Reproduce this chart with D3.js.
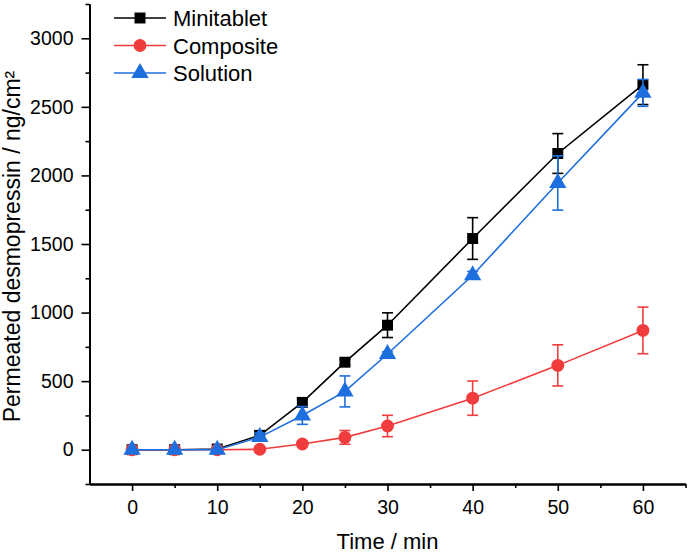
<!DOCTYPE html>
<html>
<head>
<meta charset="utf-8">
<script src="https://cdn.jsdelivr.net/npm/d3@7"></script>
<style>
  html, body { margin: 0; padding: 0; background: #fff; }
  svg { display: block; font-family: "Liberation Sans", Arial, sans-serif; }
</style>
</head>
<body>
<svg id="chart" width="689" height="554"></svg>
<script>
const times = [0, 5, 10, 15, 20, 25, 30, 40, 50, 60];
const seriesNames = ["Minitablet", "Composite", "Solution"];
const minitablet = [0, 0, 5, 105, 345, 638, 908, 1540, 2160, 2662];
const minitabletErr = [0, 0, 10, 30, 28, 20, 90, 152, 145, 145];
const composite = [0, 0, 0, 3, 42, 90, 173, 376, 615, 870];
const compositeErr = [0, 0, 0, 5, 20, 50, 78, 125, 150, 170];
const solution = [0, 0, 0, 92, 250, 425, 698, 1272, 1945, 2602];
const solutionErr = [0, 0, 0, 30, 65, 113, 15, 28, 198, 98];
const xTicks = [0, 10, 20, 30, 40, 50, 60];
const yTicks = [0, 500, 1000, 1500, 2000, 2500, 3000];
const xLabel = "Time / min";
const yLabel = "Permeated desmopressin / ng/cm²";

const colors = ["#000000", "#f03c3c", "#1e6fde"];
const shapes = [d3.symbolSquare, d3.symbolCircle, d3.symbolTriangle];
const sizes = [120, 130, 130];

const svg = d3.select("#chart");
const x = d3.scaleLinear().domain([-5, 65]).range([89.5, 685.5]);
const y = d3.scaleLinear().domain([-250, 3250]).range([484, 4]);

const font = "Liberation Sans, Arial, sans-serif";
const fmt = d3.format("d");

// Axes
const xAxis = d3.axisBottom(x).tickValues(xTicks).tickFormat(fmt).tickSize(7).tickPadding(9).tickSizeOuter(0);
const xMinor = d3.axisBottom(x).tickValues(d3.range(5, 66, 10)).tickSize(4).tickFormat("").tickSizeOuter(0);
const yAxis = d3.axisLeft(y).tickValues(yTicks).tickFormat(fmt).tickSize(8).tickPadding(8).tickSizeOuter(0);
const yMinor = d3.axisLeft(y).tickValues(d3.range(-250, 3251, 500)).tickSize(4).tickFormat("").tickSizeOuter(0);

function styleAxis(g) {
  g.selectAll(".domain").attr("stroke", "#000").attr("stroke-width", 2);
  g.selectAll(".tick line").attr("stroke", "#000").attr("stroke-width", 1.6);
  g.selectAll(".tick text").attr("font-size", 19.5).attr("font-family", font).attr("fill", "#000");
}
svg.append("g").attr("transform", `translate(0,${y(-250)})`).call(xMinor).call(styleAxis);
svg.append("g").attr("transform", `translate(0,${y(-250)})`).call(xAxis).call(styleAxis);
svg.append("g").attr("transform", `translate(${x(-5)},0)`).call(yMinor).call(styleAxis);
svg.append("g").attr("transform", `translate(${x(-5)},0)`).call(yAxis).call(styleAxis);

svg.append("text").attr("x", (x(-5) + x(65)) / 2).attr("y", 549)
  .attr("text-anchor", "middle").attr("font-size", 22).attr("font-family", font).text(xLabel);
svg.append("text").attr("transform", `translate(19.5,246.5) rotate(-90)`)
  .attr("text-anchor", "middle").attr("font-size", 23).attr("font-family", font).text(yLabel);

const data = [
  { name: seriesNames[0], vals: minitablet, errs: minitabletErr },
  { name: seriesNames[1], vals: composite, errs: compositeErr },
  { name: seriesNames[2], vals: solution, errs: solutionErr }
];

const line = d3.line().x(d => x(d[0])).y(d => y(d[1]));

data.forEach((s, i) => {
  const pts = times.map((t, j) => [t, s.vals[j], s.errs[j]]);
  const g = svg.append("g");
  g.append("path").datum(pts).attr("d", line).attr("fill", "none")
    .attr("stroke", colors[i]).attr("stroke-width", 1.6);
  // error bars
  const eb = g.selectAll(".eb").data(pts.filter(p => p[2] > 0)).enter().append("g");
  eb.append("line").attr("x1", p => x(p[0])).attr("x2", p => x(p[0]))
    .attr("y1", p => y(p[1] - p[2])).attr("y2", p => y(p[1] + p[2]))
    .attr("stroke", colors[i]).attr("stroke-width", 1.6);
  [-1, 1].forEach(sgn => {
    eb.append("line").attr("x1", p => x(p[0]) - 5.5).attr("x2", p => x(p[0]) + 5.5)
      .attr("y1", p => y(p[1] + sgn * p[2])).attr("y2", p => y(p[1] + sgn * p[2]))
      .attr("stroke", colors[i]).attr("stroke-width", 1.6);
  });
  g.selectAll(".m").data(pts).enter().append("path")
    .attr("d", d3.symbol().type(shapes[i]).size(sizes[i]))
    .attr("transform", p => `translate(${x(p[0])},${y(p[1])})`)
    .attr("fill", colors[i]);
});

// Legend
const legend = svg.append("g");
data.forEach((s, i) => {
  const ly = 18 + i * 27.5;
  legend.append("line").attr("x1", 114).attr("x2", 166).attr("y1", ly).attr("y2", ly)
    .attr("stroke", colors[i]).attr("stroke-width", 1.6);
  legend.append("path").attr("d", d3.symbol().type(shapes[i]).size(sizes[i]))
    .attr("transform", `translate(140,${ly})`).attr("fill", colors[i]);
  legend.append("text").attr("x", 173).attr("y", ly + 8).attr("font-size", 22)
    .attr("font-family", font).text(s.name);
});
</script>
</body>
</html>
